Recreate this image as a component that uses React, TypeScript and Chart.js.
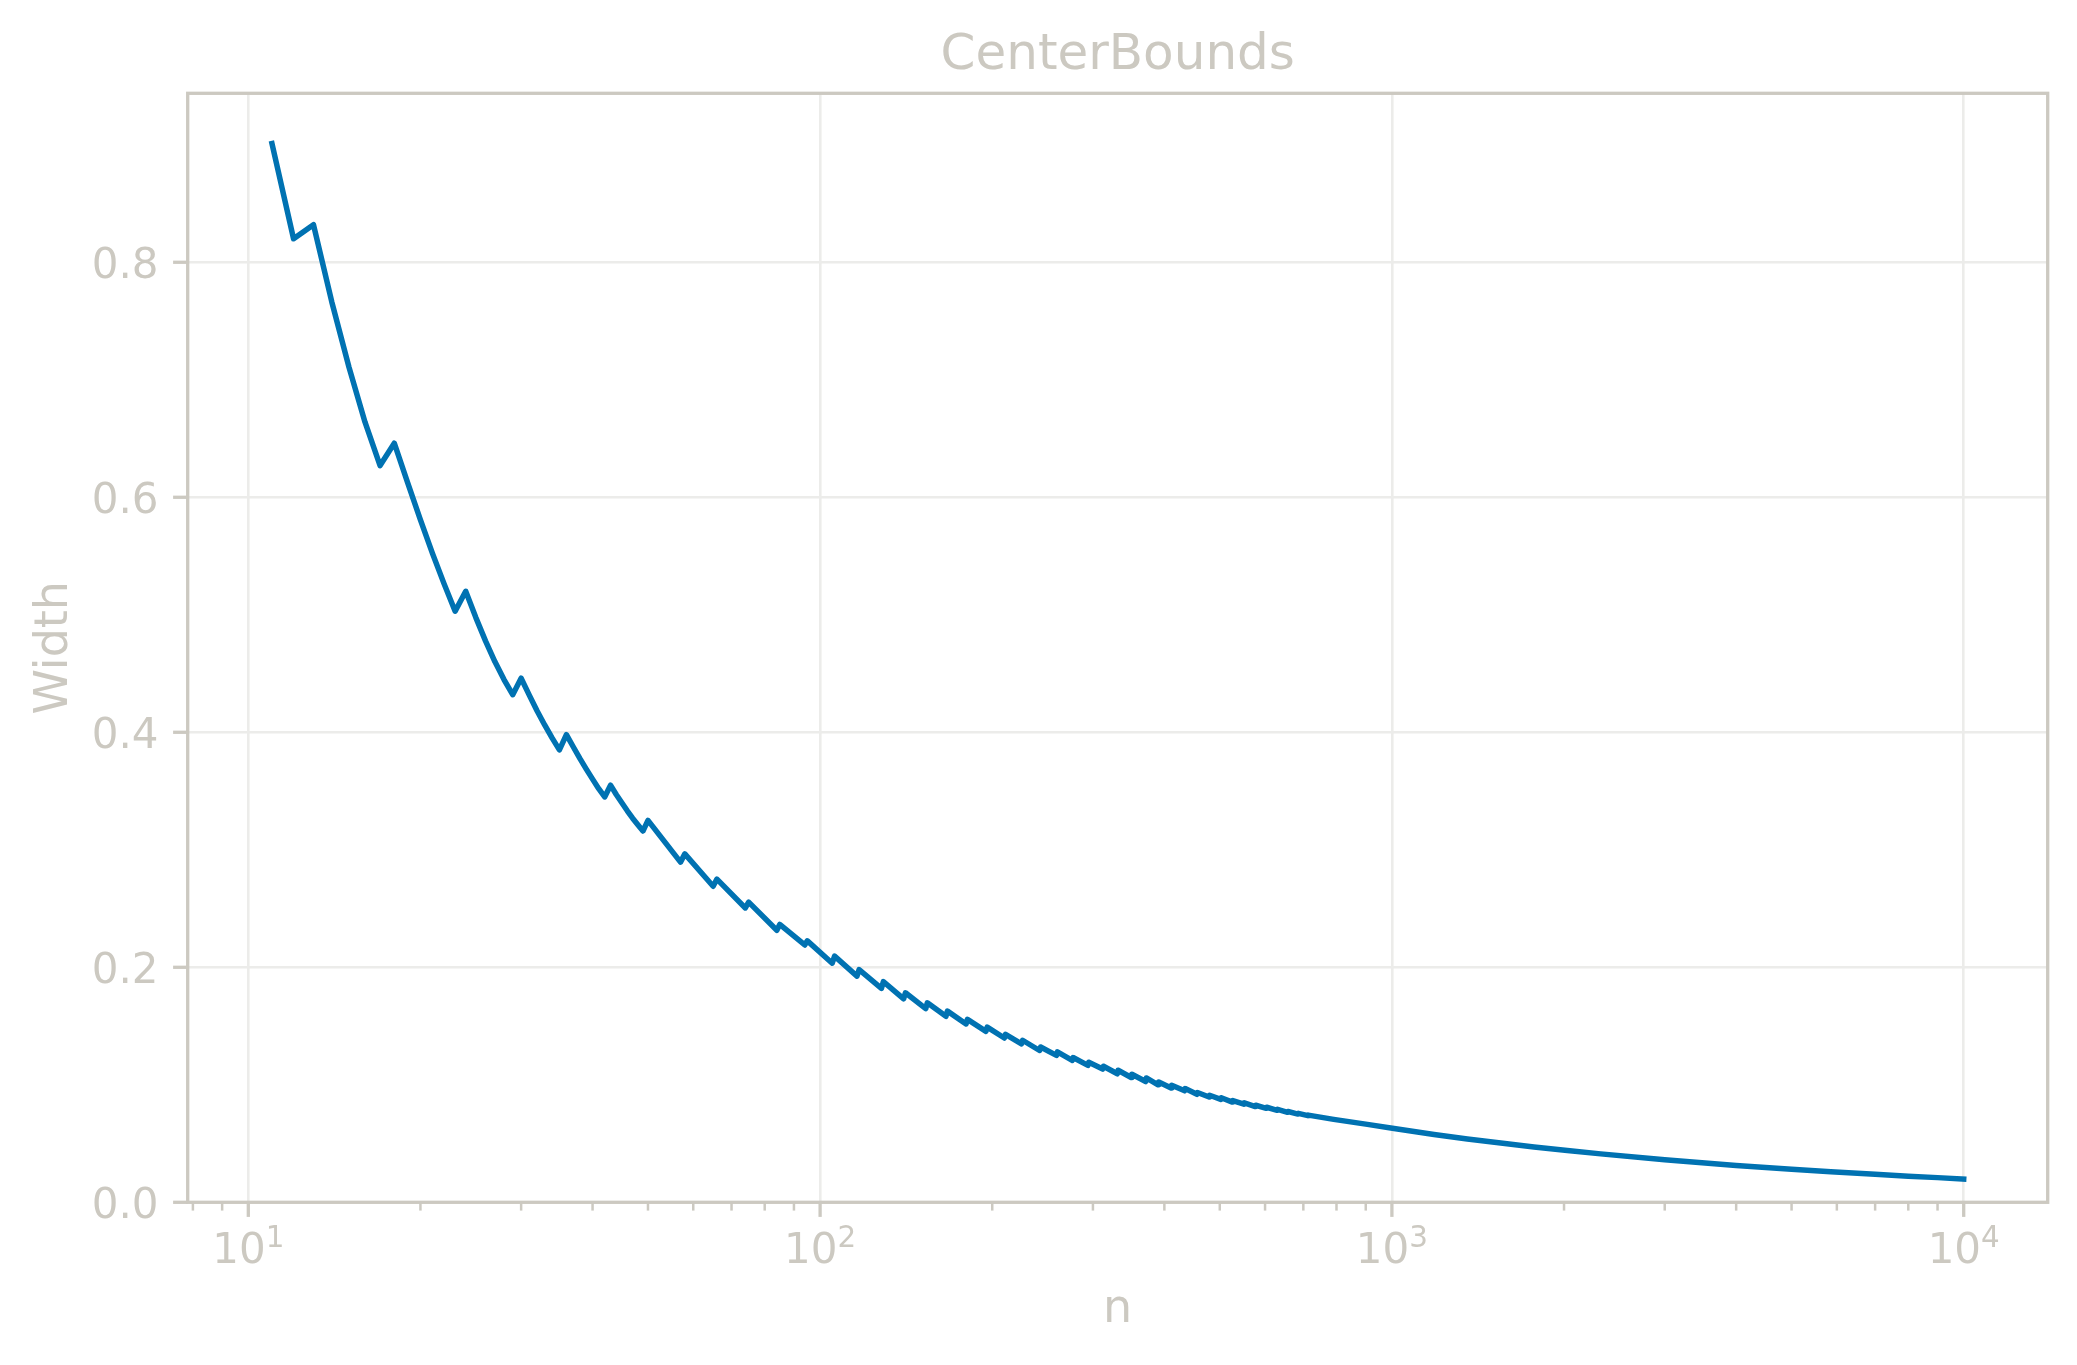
import React, { useEffect, useRef } from "react";
import { Chart, registerables } from "chart.js";

Chart.register(...registerables);

// ---- data ----
const sampleSizes = [
  11, 12, 13, 14, 15, 16, 17, 18, 19, 20, 21, 22, 23, 24, 25, 26, 27, 28, 29, 30,
  31, 32, 33, 34, 35, 36, 37, 38, 39, 40, 41, 42, 43, 44, 45, 46, 47, 48, 49, 50,
  57, 58, 65, 66, 74, 75, 84, 85, 94, 95, 105, 106, 116, 117, 128, 129, 140, 141,
  153, 154, 166, 167, 180, 181, 195, 196, 210, 211, 225, 226, 242, 243, 259, 260,
  276, 277, 294, 295, 312, 313, 331, 332, 350, 351, 371, 372, 390, 391, 411, 412,
  434, 435, 456, 457, 479, 480, 502, 503, 526, 527, 551, 552, 577, 578,
  603, 604, 630, 631, 657, 658, 685, 686, 713, 714,
  791, 906, 1002, 1185, 1355, 1550, 1772, 2027, 2318, 3000, 4000, 5000,
  5856, 7000, 8000, 9000, 10000,
];

const widths = [
  0.901, 0.82, 0.832, 0.766, 0.7107, 0.6639, 0.627, 0.646, 0.6122, 0.5808, 0.552, 0.5263, 0.503, 0.52, 0.4976, 0.4776, 0.46, 0.4449, 0.432, 0.446,
  0.4316, 0.4181, 0.406, 0.395, 0.385, 0.398, 0.3877, 0.3778, 0.3687, 0.3601, 0.352, 0.345, 0.355, 0.3471, 0.34, 0.3332, 0.3269, 0.3213, 0.316, 0.325,
  0.2895, 0.2965, 0.269, 0.275, 0.2505, 0.2555, 0.2315, 0.2365, 0.219, 0.2225, 0.2035, 0.2095, 0.1925, 0.198, 0.182, 0.1878, 0.1732, 0.1783,
  0.1648, 0.1698, 0.1583, 0.1627, 0.1518, 0.1557, 0.1455, 0.1491, 0.1398, 0.143, 0.1349, 0.1379, 0.1292, 0.1322, 0.125, 0.128,
  0.1207, 0.1232, 0.1165, 0.1192, 0.1134, 0.1158, 0.1094, 0.1124, 0.1062, 0.109, 0.1028, 0.1058, 0.1, 0.1024, 0.0972, 0.0996,
  0.0949, 0.0968, 0.0919, 0.0934, 0.0896, 0.0911, 0.0876, 0.089, 0.0853, 0.0866, 0.0835, 0.0847, 0.0815, 0.0826,
  0.08, 0.0809, 0.0783, 0.0791, 0.0766, 0.0773, 0.0751, 0.0757, 0.0737, 0.0742,
  0.0706, 0.0663, 0.063, 0.0577, 0.0539, 0.0504, 0.0471, 0.0441, 0.0412, 0.0363, 0.0314, 0.0281,
  0.026, 0.0238, 0.0222, 0.021, 0.0198,
];

const yTickValues = [0, 0.2, 0.4, 0.6, 0.8];
const yTickLabels = ["0.0", "0.2", "0.4", "0.6", "0.8"];
const xMajorTicks = [10, 100, 1000, 10000];
const xMajorBase = "10";
const xMajorExponents = ["1", "2", "3", "4"];
const xMinorDecades = [1, 10, 100, 1000];
const xMinorMultipliers = [2, 3, 4, 5, 6, 7, 8, 9];

const TITLE = "CenterBounds";
const X_LABEL = "n";
const Y_LABEL = "Width";

// ---- style ----
const X_MIN = Math.pow(10, 0.894);
const X_MAX = Math.pow(10, 4.1469);
const Y_MIN = 0;
const Y_MAX = 0.9438;
const LINE_COLOR = "#0072b2";
const AXIS_COLOR = "#ccc9c1";
const GRID_COLOR = "#ececea";
const FONT = '"DejaVu Sans", "Liberation Sans", sans-serif';
const W = 2077;
const H = 1365;

const decorPlugin = {
  id: "decor",
  afterDraw(chart: any) {
    const { ctx, chartArea: a, scales } = chart;
    const xs = scales.x;
    const ys = scales.y;
    ctx.save();
    ctx.strokeStyle = AXIS_COLOR;
    ctx.fillStyle = AXIS_COLOR;
    ctx.lineCap = "butt";

    // spines
    ctx.lineWidth = 3.3;
    ctx.strokeRect(a.left, a.top, a.right - a.left, a.bottom - a.top);

    const majorLen = 14.6;
    const minorLen = 8.3;

    // y ticks + labels
    ctx.font = `42px ${FONT}`;
    ctx.textAlign = "right";
    ctx.textBaseline = "alphabetic";
    yTickValues.forEach((v, i) => {
      const y = ys.getPixelForValue(v);
      ctx.lineWidth = 3.3;
      ctx.beginPath();
      ctx.moveTo(a.left - majorLen, y);
      ctx.lineTo(a.left, y);
      ctx.stroke();
      ctx.fillText(yTickLabels[i], a.left - 29.2, y + 15.8);
    });

    // x minor ticks
    ctx.lineWidth = 2.5;
    xMinorDecades.forEach((d) => {
      xMinorMultipliers.forEach((m) => {
        const v = d * m;
        if (v < X_MIN || v > X_MAX) return;
        const x = xs.getPixelForValue(v);
        ctx.beginPath();
        ctx.moveTo(x, a.bottom);
        ctx.lineTo(x, a.bottom + minorLen);
        ctx.stroke();
      });
    });

    // x major ticks + labels
    xMajorTicks.forEach((v, i) => {
      const x = xs.getPixelForValue(v);
      ctx.lineWidth = 3.3;
      ctx.beginPath();
      ctx.moveTo(x, a.bottom);
      ctx.lineTo(x, a.bottom + majorLen);
      ctx.stroke();
      ctx.textAlign = "left";
      ctx.font = `42px ${FONT}`;
      const wBase = ctx.measureText(xMajorBase).width;
      ctx.font = `29.4px ${FONT}`;
      const wExp = ctx.measureText(xMajorExponents[i]).width;
      const start = x - (wBase + wExp) / 2;
      const baseY = a.bottom + 61;
      ctx.font = `42px ${FONT}`;
      ctx.fillText(xMajorBase, start, baseY);
      ctx.font = `29.4px ${FONT}`;
      ctx.fillText(xMajorExponents[i], start + wBase, baseY - 16.6);
    });

    // axis labels
    const cx = (a.left + a.right) / 2;
    const cy = (a.top + a.bottom) / 2;
    ctx.font = `46px ${FONT}`;
    ctx.textAlign = "center";
    ctx.fillText(X_LABEL, cx, 1321.6);
    ctx.save();
    ctx.translate(66.7, cy);
    ctx.rotate(-Math.PI / 2);
    ctx.fillText(Y_LABEL, 0, 0);
    ctx.restore();

    // title
    ctx.font = `50px ${FONT}`;
    ctx.fillText(TITLE, cx, 69.3);
    ctx.restore();
  },
};

export default function App() {
  const canvasRef = useRef<HTMLCanvasElement | null>(null);

  useEffect(() => {
    const canvas = canvasRef.current;
    if (!canvas) return;
    const points = sampleSizes.map((n, i) => ({ x: n, y: widths[i] }));
    const chart = new Chart(canvas, {
      type: "line",
      data: {
        datasets: [
          {
            data: points,
            borderColor: LINE_COLOR,
            backgroundColor: LINE_COLOR,
            borderWidth: 5.5,
            pointRadius: 0,
            tension: 0,
            fill: false,
            borderJoinStyle: "round",
            borderCapStyle: "square",
          },
        ],
      },
      options: {
        responsive: false,
        devicePixelRatio: 1,
        animation: false,
        layout: {
          padding: { left: 187.7, top: 93.3, right: W - 2047.7, bottom: H - 1202.3 },
        },
        plugins: {
          legend: { display: false },
          tooltip: { enabled: false },
          title: { display: false },
        },
        scales: {
          x: {
            type: "logarithmic",
            min: X_MIN,
            max: X_MAX,
            afterBuildTicks: (scale: any) => {
              scale.ticks = xMajorTicks.map((v) => ({ value: v }));
            },
            afterFit: (scale: any) => {
              scale.height = 0;
            },
            ticks: { display: false },
            border: { display: false },
            grid: { color: GRID_COLOR, lineWidth: 2.6, drawTicks: false },
          },
          y: {
            type: "linear",
            min: Y_MIN,
            max: Y_MAX,
            afterBuildTicks: (scale: any) => {
              scale.ticks = yTickValues.map((v) => ({ value: v }));
            },
            afterFit: (scale: any) => {
              scale.width = 0;
            },
            ticks: { display: false },
            border: { display: false },
            grid: {
              color: (c: any) => (c.tick && c.tick.value === 0 ? "rgba(0,0,0,0)" : GRID_COLOR),
              lineWidth: 2.6,
              drawTicks: false,
            },
          },
        },
      },
      plugins: [decorPlugin],
    });
    return () => chart.destroy();
  }, []);

  return (
    <div style={{ position: "fixed", left: 0, top: 0, width: W, height: H, background: "#ffffff" }}>
      <canvas ref={canvasRef} width={W} height={H} style={{ width: W, height: H, display: "block" }} />
    </div>
  );
}
